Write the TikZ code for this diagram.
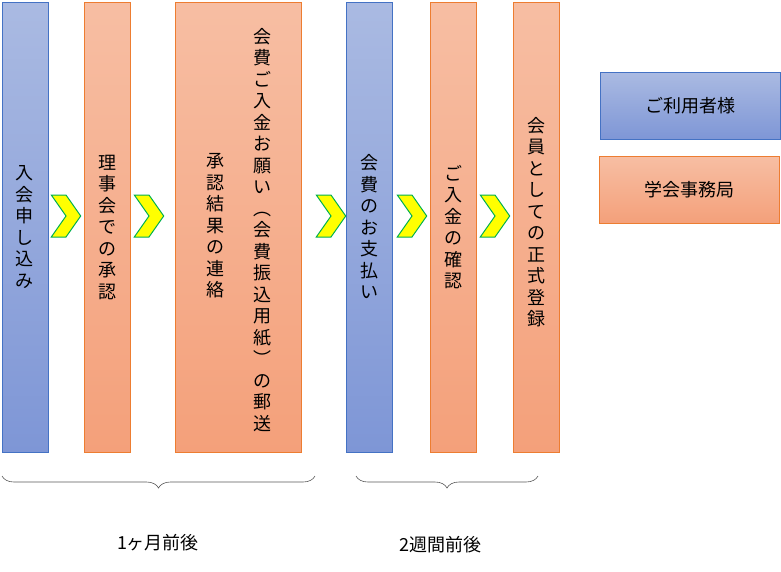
\documentclass[tikz,border=0pt]{standalone}
\usepackage{fontspec}
\newfontfamily\cjk{Noto Sans CJK JP}
\usetikzlibrary{positioning,shapes.symbols,decorations.pathreplacing}
\definecolor{userline}{RGB}{68,114,196}
\definecolor{usertop}{RGB}{170,186,226}
\definecolor{userbot}{RGB}{126,150,214}
\definecolor{officeline}{RGB}{237,125,49}
\definecolor{officetop}{RGB}{247,190,163}
\definecolor{officebot}{RGB}{244,160,122}
\definecolor{stepgreen}{RGB}{0,176,80}
\definecolor{stepyellow}{RGB}{255,255,0}

\begin{document}
\begin{tikzpicture}[x=1pt, y=-1pt,
    user/.style={rectangle, draw=userline, top color=usertop, bottom color=userbot, minimum width=46pt, minimum height=450pt},
    office/.style={rectangle, draw=officeline, top color=officetop, bottom color=officebot, minimum width=46pt, minimum height=450pt},
    vtext/.style={align=center, font=\cjk\fontsize{18}{21.5}\selectfont, inner sep=0pt},
    chev/.style={signal, signal from=west, signal to=east, signal pointer angle=110, draw=stepgreen, fill=stepyellow, line width=1pt, minimum width=24pt, minimum height=42pt, inner sep=0pt},
    legend/.style={rectangle, minimum width=180pt, minimum height=67pt, font=\cjk\fontsize{18}{20}\selectfont},
    brace/.style={decorate, decoration={brace, mirror, amplitude=12pt}, draw=gray!70!black, line width=0.6pt},
    period/.style={font=\cjk\fontsize{18}{20}\selectfont}
]
    \useasboundingbox (0,0) rectangle (781,571);

    % Steps
    \node[user] (apply) at (25,227) {};
    \node[office] (board) at (107.5,227) {};
    \node[office, minimum width=126pt] (notice) at (238,227) {};
    \node[user] (pay) at (369,227) {};
    \node[office] (confirm) at (453,227) {};
    \node[office] (register) at (536,227) {};

    % Texts
    \node[vtext] at (apply) {入\\会\\申\\し\\込\\み};
    \node[vtext] at (board) {理\\事\\会\\で\\の\\承\\認};
    \node[vtext] at (262,230) {会\\費\\ご\\入\\金\\お\\願\\い\\︵\\会\\費\\振\\込\\用\\紙\\︶\\の\\郵\\送};
    \node[vtext] at (215,226) {承\\認\\結\\果\\の\\連\\絡};
    \node[vtext] at (pay) {会\\費\\の\\お\\支\\払\\い};
    \node[vtext] at (confirm) {ご\\入\\金\\の\\確\\認};
    \node[vtext] at (536,222) {会\\員\\と\\し\\て\\の\\正\\式\\登\\録};

    % Chevrons
    \node[chev] at (66,216) {};
    \node[chev] at (149,216) {};
    \node[chev] at (331,216) {};
    \node[chev] at (412,216) {};
    \node[chev] at (495,216) {};

    % Legend
    \node[legend, draw=userline, top color=usertop, bottom color=userbot] (luser) at (690,106) {ご利用者様};
    \node[legend, draw=officeline, top color=officetop, bottom color=officebot] (loffice) at (689,190) {学会事務局};

    % Periods
    \coordinate (b1s) at (2,476);
    \coordinate (b1e) at (315,476);
    \coordinate (b2s) at (356,476);
    \coordinate (b2e) at (538,476);
    \draw[brace] (b1s) -- (b1e);
    \draw[brace] (b2s) -- (b2e);
    \node[period] (month) at (158,543) {1ヶ月前後};
    \node[period] (weeks) at (440,545) {2週間前後};
\end{tikzpicture}
\end{document}
